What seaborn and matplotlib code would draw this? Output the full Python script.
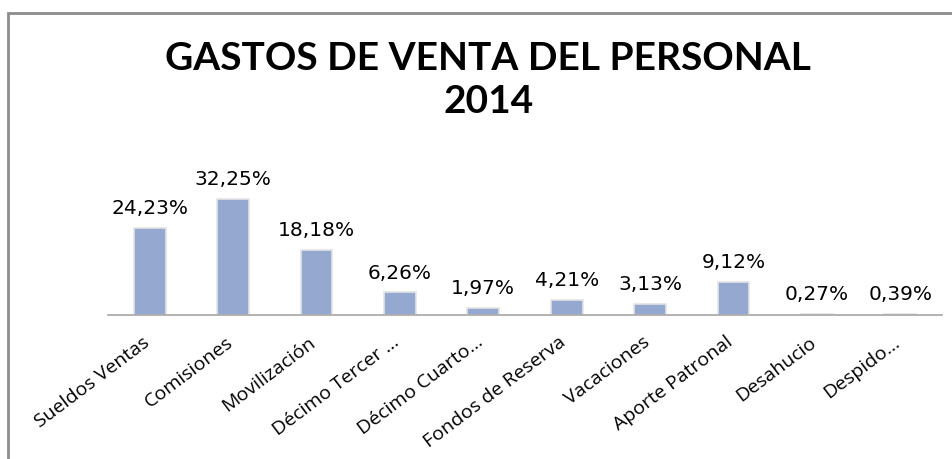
import matplotlib
matplotlib.use("Agg")
import seaborn as sns
import pandas as pd
from matplotlib import pyplot as plt
from matplotlib.patches import Rectangle
from matplotlib.transforms import ScaledTranslation

categorias = ["Sueldos Ventas", "Comisiones", "Movilización", "Décimo Tercer ...",
              "Décimo Cuarto...", "Fondos de Reserva", "Vacaciones",
              "Aporte Patronal", "Desahucio", "Despido..."]
porcentajes = [24.23, 32.25, 18.18, 6.26, 1.97, 4.21, 3.13, 9.12, 0.27, 0.39]
etiquetas = ["24,23%", "32,25%", "18,18%", "6,26%", "1,97%", "4,21%", "3,13%",
             "9,12%", "0,27%", "0,39%"]

df = pd.DataFrame({"categoria": categorias, "valor": porcentajes})

sns.set_style("white")
plt.rcParams["font.family"] = ["DejaVu Sans"]

fig = plt.figure(figsize=(9.52, 4.59), dpi=100)
ax = fig.add_axes([108/952, 144/459, 834/952, 145/459])

sns.barplot(data=df, x="categoria", y="valor", color="#94A8D0", saturation=1,
            width=0.38, edgecolor="#E4E4E4", linewidth=1.2, ax=ax)

ax.set_ylim(0, 40.3)
ax.set_xlim(-0.5, len(categorias) - 0.5)
ax.set_xlabel("")
ax.set_ylabel("")
ax.set_yticks([])
for s in ["top", "right", "left"]:
    ax.spines[s].set_visible(False)
ax.spines["bottom"].set_color("#A6A6A6")
ax.spines["bottom"].set_linewidth(1.2)

ax.set_xticks(range(len(categorias)))
ax.set_xticklabels(categorias, rotation=37, ha="right", rotation_mode="anchor",
                   fontsize=14, color="black", family=["Open Sans", "DejaVu Sans"])
ax.tick_params(axis="x", length=0, pad=13)
# nudge labels a bit to the left, like the excel original
shift = ScaledTranslation(-8/100, 0, fig.dpi_scale_trans)
for lbl in ax.get_xticklabels():
    lbl.set_transform(lbl.get_transform() + shift)

for i, (v, t) in enumerate(zip(porcentajes, etiquetas)):
    ax.annotate(t, (i, v), xytext=(0, 7), textcoords="offset points",
                ha="center", va="bottom", fontsize=14.5, color="black")

fig.text(0.513, 0.872, "GASTOS DE VENTA DEL PERSONAL", ha="center", va="center",
         fontsize=28, fontweight="bold", color="black", family=["Lato", "DejaVu Sans"])
fig.text(0.513, 0.778, "2014", ha="center", va="center",
         fontsize=28, fontweight="bold", color="black", family=["Lato", "DejaVu Sans"])

fig.patches.append(Rectangle((8/952, -0.1), 1.2, 1 - 13/459 + 0.1,
                             transform=fig.transFigure, fill=False,
                             edgecolor="#8C8C8C", linewidth=2))

fig.savefig("out.png", dpi=100)
